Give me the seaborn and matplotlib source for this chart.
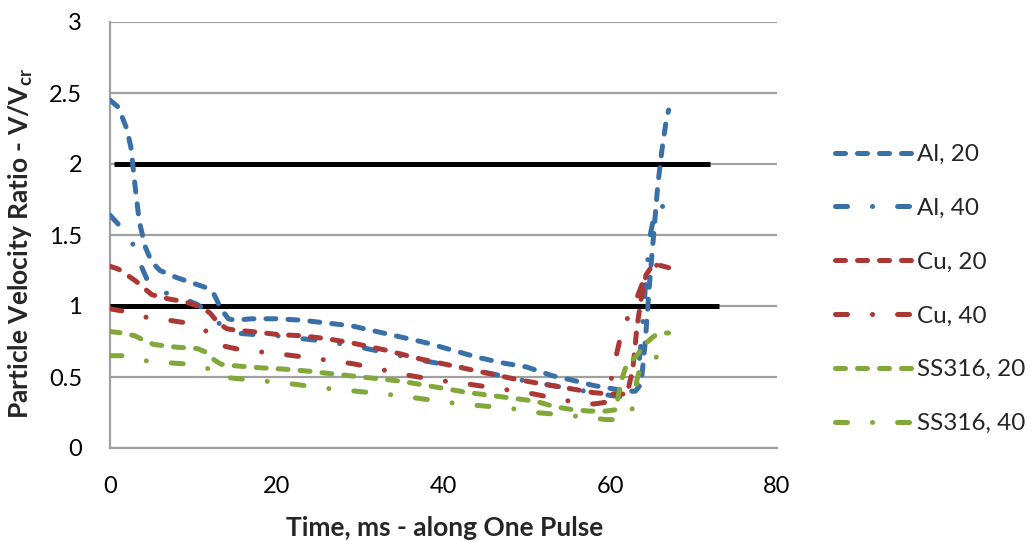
import numpy as np
import pandas as pd
import matplotlib
matplotlib.use("Agg")
import matplotlib.pyplot as plt
import seaborn as sns

# ---- data ----
al20_x = [0, 1, 2, 2.5, 3, 3.5, 4.2, 5, 6, 8, 10, 11.5, 12.5, 13.3, 14.2, 15, 17, 20, 23, 26, 29,
          32, 35, 38, 41, 44, 47, 50, 53, 56, 58, 60, 62, 63, 63.7, 64.2, 64.7, 65.2, 65.7, 66.2, 66.7, 67]
al20_y = [2.45, 2.4, 2.25, 2.12, 1.85, 1.6, 1.42, 1.31, 1.25, 1.2, 1.16, 1.13, 1.08, 0.98, 0.91, 0.9,
          0.91, 0.91, 0.9, 0.88, 0.86, 0.82, 0.78, 0.74, 0.69, 0.64, 0.6, 0.57, 0.51, 0.47, 0.44, 0.42,
          0.4, 0.4, 0.45, 0.75, 1.15, 1.5, 1.85, 2.1, 2.3, 2.38]

al40_x = [0, 1.4, 2.8, 3.6, 4.5, 6.4, 8, 9.3, 10.5, 12, 13.5, 15, 17, 20, 23, 26, 30, 34, 38, 42, 46,
          50, 54, 58, 60, 61.5, 62.5, 63.2, 63.8, 64.3, 64.8, 65.3, 65.8, 66.3, 67]
al40_y = [1.64, 1.55, 1.43, 1.3, 1.18, 1.1, 1.06, 1.04, 1.01, 0.95, 0.85, 0.81, 0.8, 0.79, 0.77, 0.75,
          0.71, 0.66, 0.61, 0.57, 0.52, 0.47, 0.43, 0.39, 0.37, 0.36, 0.37, 0.45, 0.8, 1.2, 1.5, 1.65,
          1.72, 1.7, 1.64]

cu20_x = [0, 1, 2, 3, 4, 5, 7, 9, 11, 12, 13, 14, 15, 17, 20, 23, 26, 29, 33, 37, 41, 45, 49, 52, 55,
          58, 60, 62, 62.7, 63.2, 63.7, 64.3, 65, 65.7, 67]
cu20_y = [1.28, 1.26, 1.22, 1.18, 1.13, 1.08, 1.05, 1.03, 0.99, 0.95, 0.88, 0.84, 0.83, 0.82, 0.8,
          0.79, 0.77, 0.74, 0.69, 0.63, 0.58, 0.53, 0.48, 0.45, 0.42, 0.39, 0.38, 0.38, 0.55, 0.85,
          1.05, 1.22, 1.28, 1.29, 1.27]

cu40_x = [0, 2, 4.4, 7, 9.3, 11.2, 12.5, 13.5, 15, 17.5, 20, 22, 24.7, 27, 29, 32, 35, 39, 43, 46.4,
          50, 53.4, 56, 58, 59.3, 60, 60.6, 61.3, 62.3, 63, 64, 65, 66, 67]
cu40_y = [0.98, 0.96, 0.92, 0.9, 0.88, 0.84, 0.77, 0.72, 0.7, 0.68, 0.665, 0.65, 0.63, 0.61, 0.595,
          0.56, 0.52, 0.48, 0.45, 0.42, 0.39, 0.35, 0.32, 0.31, 0.32, 0.45, 0.62, 0.8, 0.95, 1.03,
          1.18, 1.27, 1.3, 1.28]

ss20_x = [0, 1.5, 3, 4, 5.2, 6.5, 8, 10.5, 11.7, 12.5, 13.3, 14.8, 18, 21, 24, 27, 31, 35, 39, 43, 47,
          51, 53.4, 55.5, 57.5, 59.5, 60.7, 61.2, 61.8, 62.5, 63.3, 64.3, 65.3, 66.3, 67]
ss20_y = [0.82, 0.81, 0.79, 0.76, 0.73, 0.72, 0.71, 0.7, 0.67, 0.62, 0.59, 0.58, 0.565, 0.555, 0.54,
          0.52, 0.495, 0.47, 0.43, 0.39, 0.36, 0.33, 0.29, 0.27, 0.26, 0.26, 0.27, 0.45, 0.56, 0.61,
          0.66, 0.74, 0.79, 0.81, 0.81]

ss40_x = [0, 2, 4.6, 7, 9.6, 11.7, 12.8, 13.5, 15, 18.7, 22, 26, 29.5, 33, 37, 40.6, 44, 48, 51, 55,
          58, 59.5, 61, 62.3, 62.8, 63.2, 63.6, 64.5, 65.5, 67]
ss40_y = [0.65, 0.65, 0.61, 0.6, 0.59, 0.56, 0.53, 0.5, 0.49, 0.47, 0.45, 0.42, 0.4, 0.38, 0.35, 0.32,
          0.3, 0.28, 0.25, 0.23, 0.21, 0.2, 0.2, 0.23, 0.3, 0.48, 0.57, 0.62, 0.64, 0.65]

labels = ["Al, 20", "Al, 40", "Cu, 20", "Cu, 40", "SS316, 20", "SS316, 40"]
xs = [al20_x, al40_x, cu20_x, cu40_x, ss20_x, ss40_x]
ys = [al20_y, al40_y, cu20_y, cu40_y, ss20_y, ss40_y]

# black reference lines
ref_levels = [2, 1]
ref_start = [0.5, 0]
ref_end = [72, 73]

colors = ["#3A70A8", "#3A70A8", "#AB3835", "#AB3835", "#82A83B", "#82A83B"]
dash_short = (2.0, 2.4)
dash_dot = (2.4, 5.0, 0.01, 5.0)
styles = [dash_short, dash_dot, dash_short, dash_dot, dash_short, dash_dot]

sns.set_style("white")
plt.rcParams["font.family"] = ["Lato", "DejaVu Sans"]
plt.rcParams["mathtext.fontset"] = "custom"
plt.rcParams["mathtext.rm"] = "Lato:bold"
plt.rcParams["mathtext.default"] = "rm"

fig = plt.figure(figsize=(10.33, 5.41), dpi=100)
ax = fig.add_axes([110 / 1033, 1 - 448 / 541, 667 / 1033, 426 / 541])

ax.hlines(ref_levels, ref_start, ref_end, colors="black", linewidth=3.6, zorder=3)

for x, y, lab, c, d in zip(xs, ys, labels, colors, styles):
    df = pd.DataFrame({"t": x, "v": y})
    sns.lineplot(data=df, x="t", y="v", ax=ax, color=c, linewidth=3.6, label=lab,
                 estimator=None, sort=False, zorder=4)
    line = ax.lines[-1]
    line.set_dashes(d)
    line.set_dash_capstyle("round")

ax.set_xlim(0, 80)
ax.set_ylim(0, 3)
ax.set_xticks([0, 20, 40, 60, 80])
ax.set_yticks([0, 0.5, 1, 1.5, 2, 2.5, 3])
ax.set_yticklabels(["0", "0.5", "1", "1.5", "2", "2.5", "3"])
ax.grid(axis="y", color="#A0A0A0", linewidth=1.6)
ax.set_axisbelow(True)
for s in ["top", "right"]:
    ax.spines[s].set_visible(False)
for s in ["left", "bottom"]:
    ax.spines[s].set_color("#A0A0A0")
    ax.spines[s].set_linewidth(1.6)
ax.tick_params(axis="both", direction="out", length=6, width=1.6, color="#A0A0A0",
               labelsize=17, labelcolor="black")
ax.tick_params(axis="y", pad=14)
ax.tick_params(axis="x", pad=14)

ax.set_xlabel("Time, ms - along One Pulse", fontsize=19, fontweight="bold")
ax.set_ylabel("Particle Velocity Ratio - V/V$_{cr}$", fontsize=19, fontweight="bold")
ax.xaxis.set_label_coords(0.502, -0.16)
ax.yaxis.set_label_coords(-0.112, 0.48)

ax.get_legend().remove()
handles, labs = ax.get_legend_handles_labels()
fig.legend(handles[-6:], labs[-6:], loc="upper left", bbox_to_anchor=(835 / 1033, 1 - 144 / 541),
           frameon=False, fontsize=17.5, handlelength=3.2, handletextpad=0.18,
           labelspacing=1.35, borderpad=0, borderaxespad=0)

fig.savefig("out.png", dpi=100)
